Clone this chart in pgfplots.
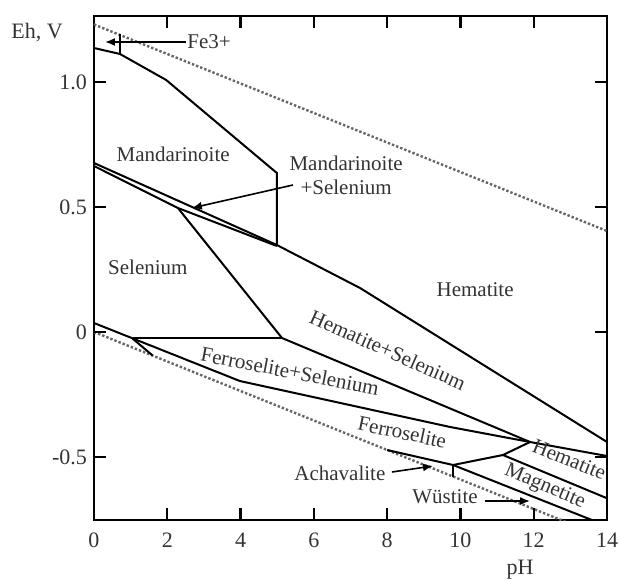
\documentclass[border=0pt]{standalone}
\usepackage{fontspec}
\setmainfont{Liberation Serif}
\usepackage{pgfplots}
\pgfplotsset{compat=1.18}
\usetikzlibrary{arrows.meta}

\begin{document}
\begin{tikzpicture}[
    lbl/.style={font=\fontsize{10.5}{12}\selectfont, text=black!80, inner sep=0pt},
    arr/.style={line width=0.8pt, -{Latex[length=5pt,width=4pt]}},
    bd/.style={black, solid, line width=1pt, mark=none},
    wl/.style={black!60, densely dotted, line width=1.2pt, mark=none},
    tk/.style={black, line width=1.1pt},
]
\useasboundingbox (0,0) rectangle (310pt,290pt);
\begin{axis}[
    at={(47pt,30pt)}, anchor=south west,
    scale only axis, width=256.5pt, height=252pt,
    xmin=0, xmax=14, ymin=-0.752, ymax=1.264,
    xtick={0,2,...,14},
    ytick={-0.5,0,0.5,1},
    yticklabels={-0.5,0,0.5,1.0},
    tick align=inside,
    major tick length=6pt,
    major tick style={line width=1.1pt, draw=black},
    axis line style={line width=1pt},
    /pgf/number format/assume math mode=true,
    tick label style={font=\fontsize{11}{13}\selectfont, text=black!80},
    xticklabel style={yshift=-3pt},
    clip mode=individual,
]
% water stability limits
\addplot[wl] coordinates {(0,1.23) (14,0.404)};
\addplot[wl] coordinates {(0,0) (14,-0.826)};
% Fe3+ / Mandarinoite
\addplot[bd] coordinates {(0,1.136) (0.71,1.112) (1.97,1.008) (4.99,0.636) (4.99,0.348)};
\addplot[bd] coordinates {(0.71,1.19) (0.71,1.112)};
% Mandarinoite / Selenium / Hematite
\addplot[bd] coordinates {(0,0.676) (4.99,0.348) (7.26,0.176) (14,-0.44)};
\addplot[bd] coordinates {(0,0.664) (2.29,0.496) (4.99,0.344)};
\addplot[bd] coordinates {(2.29,0.496) (5.13,-0.024)};
\addplot[bd] coordinates {(1.07,-0.024) (5.13,-0.024)};
\addplot[bd] coordinates {(5.13,-0.024) (11.9,-0.44)};
% Ferroselite + Selenium
\addplot[bd] coordinates {(0,0.036) (3.98,-0.196) (9.72,-0.38) (11.9,-0.44)};
\addplot[bd] coordinates {(1.05,-0.026) (1.6,-0.094)};
% lower right fields
\addplot[bd] coordinates {(11.9,-0.44) (14,-0.496)};
\addplot[bd] coordinates {(11.9,-0.44) (11.16,-0.492) (9.8,-0.532)};
\addplot[bd] coordinates {(8.0,-0.472) (9.8,-0.532)};
\addplot[bd] coordinates {(9.8,-0.532) (9.8,-0.578)};
\addplot[bd] coordinates {(11.16,-0.492) (14,-0.665)};
\addplot[bd] coordinates {(9.8,-0.532) (14,-0.776)};

% tick marks on all four sides, pointing inwards
\pgfplotsinvokeforeach{2,4,6,8,10,12}{
  \draw[tk] (axis cs:#1,-0.752) -- ([yshift=6pt]axis cs:#1,-0.752);
  \draw[tk] (axis cs:#1,1.264) -- ([yshift=-6pt]axis cs:#1,1.264);
}
\pgfplotsinvokeforeach{-0.5,0,0.5,1}{
  \draw[tk] (axis cs:0,#1) -- ([xshift=6pt]axis cs:0,#1);
  \draw[tk] (axis cs:14,#1) -- ([xshift=-6pt]axis cs:14,#1);
}

% labels
\node[lbl, anchor=west] at (axis cs:2.54,1.16) {Fe3+};
\draw[arr] (axis cs:2.5,1.16) -- (axis cs:0.3,1.16);
\node[lbl] at (axis cs:2.16,0.712) {Mandarinoite};
\node[lbl, align=center] at (axis cs:6.88,0.628) {Mandarinoite\\+Selenium};
\draw[arr] (axis cs:5.43,0.588) -- (axis cs:2.67,0.496);
\node[lbl] at (axis cs:1.47,0.26) {Selenium};
\node[lbl] at (axis cs:10.4,0.168) {Hematite};
\node[lbl, rotate=-24] at (axis cs:8.02,-0.072) {Hematite+Selenium};
\node[lbl, rotate=-11] at (axis cs:5.35,-0.156) {Ferroselite+Selenium};
\node[lbl, rotate=-12] at (axis cs:8.41,-0.4) {Ferroselite};
\node[lbl] at (axis cs:6.71,-0.564) {Achavalite};
\draw[arr] (axis cs:8.13,-0.56) -- (axis cs:9.25,-0.536);
\node[lbl] at (axis cs:9.58,-0.66) {Wüstite};
\draw[arr] (axis cs:10.67,-0.676) -- (axis cs:11.9,-0.676);
\node[lbl, rotate=-22] at (axis cs:12.97,-0.51) {Hematite};
\node[lbl, rotate=-23] at (axis cs:12.3,-0.62) {Magnetite};
\end{axis}
\node[font=\fontsize{11}{13}\selectfont, text=black!80] at (18.5pt,273.5pt) {Eh,\ V};
\node[font=\fontsize{11}{13}\selectfont, text=black!80] at (260pt,5pt) {pH};
\end{tikzpicture}
\end{document}
